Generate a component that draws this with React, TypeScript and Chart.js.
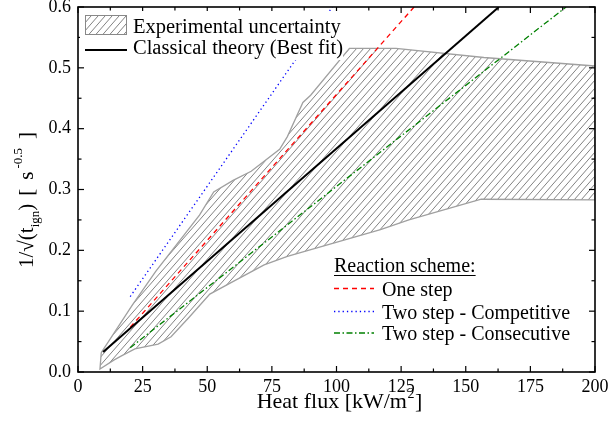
import React, { useEffect, useRef } from 'react';
import { Chart, registerables } from 'chart.js';

Chart.register(...registerables);

// ---- data ----
const xTickValues = [0, 25, 50, 75, 100, 125, 150, 175, 200];
const yTickValues = [0, 0.1, 0.2, 0.3, 0.4, 0.5, 0.6];

// Experimental uncertainty band (upper / lower envelope)
const upperFlux = [9, 21, 30, 47, 52.5, 60, 67, 78, 81, 87, 90, 105, 123, 157, 200];
const upperRate = [0.032, 0.11, 0.165, 0.258, 0.296, 0.315, 0.33, 0.366, 0.387, 0.443, 0.455, 0.532, 0.532, 0.517, 0.503];
const lowerFlux = [8.5, 14, 17, 22, 31, 36, 43, 51, 61, 72, 81, 117, 128, 156, 200];
const lowerRate = [0.005, 0.02, 0.027, 0.038, 0.046, 0.058, 0.09, 0.128, 0.151, 0.176, 0.19, 0.234, 0.25, 0.284, 0.283];

// Model lines
const classicalFlux = [9.7, 162.8];
const classicalRate = [0.033, 0.6];
const oneStepFlux = [20.2, 130];
const oneStepRate = [0.0735, 0.6];
const competitiveFlux = [20.2, 98.4];
const competitiveRate = [0.124, 0.6];
const consecutiveFlux = [20.2, 188.8];
const consecutiveRate = [0.04, 0.6];

const FONT = '"Liberation Serif", "Times New Roman", serif';

function zip(xs: number[], ys: number[]) {
  return xs.map((x, i) => ({ x, y: ys[i] }));
}

function makeHatch(): CanvasPattern | string {
  const c = document.createElement('canvas');
  const w = 7, h = 8;
  c.width = w;
  c.height = h;
  const g = c.getContext('2d');
  if (!g) return '#ccc';
  g.strokeStyle = '#828282';
  g.lineWidth = 1;
  for (let k = -1; k <= 1; k++) {
    g.beginPath();
    g.moveTo(k * w, h);
    g.lineTo(k * w + w, 0);
    g.stroke();
  }
  return g.createPattern(c, 'repeat') || '#ccc';
}

function line(ctx: CanvasRenderingContext2D, x1: number, y1: number, x2: number, y2: number) {
  ctx.beginPath();
  ctx.moveTo(x1, y1);
  ctx.lineTo(x2, y2);
  ctx.stroke();
}

const framePlugin = {
  id: 'frame',
  afterDatasetsDraw(chart: any) {
    const { ctx, chartArea: a, scales } = chart;
    const x = scales.x, y = scales.y;
    ctx.save();
    ctx.strokeStyle = '#000';
    ctx.lineWidth = 1.6;
    ctx.strokeRect(a.left, a.top, a.right - a.left, a.bottom - a.top);
    ctx.lineWidth = 1.2;
    const xMinor = xTickValues.slice(1).map((v, i) => (v + xTickValues[i]) / 2);
    const yMinor = yTickValues.slice(1).map((v, i) => (v + yTickValues[i]) / 2);
    for (const v of xTickValues) {
      const px = x.getPixelForValue(v);
      line(ctx, px, a.bottom, px, a.bottom - 6);
      line(ctx, px, a.top, px, a.top + 6);
    }
    for (const v of xMinor) {
      const px = x.getPixelForValue(v);
      line(ctx, px, a.bottom, px, a.bottom - 3.5);
      line(ctx, px, a.top, px, a.top + 3.5);
    }
    for (const v of yTickValues) {
      const py = y.getPixelForValue(v);
      line(ctx, a.left, py, a.left + 6, py);
      line(ctx, a.right, py, a.right - 6, py);
    }
    for (const v of yMinor) {
      const py = y.getPixelForValue(v);
      line(ctx, a.left, py, a.left + 3.5, py);
      line(ctx, a.right, py, a.right - 3.5, py);
    }
    ctx.restore();
  },
};

function makeTextPlugin(hatch: CanvasPattern | string) {
  return {
    id: 'texts',
    afterDraw(chart: any) {
      const ctx: CanvasRenderingContext2D = chart.ctx;
      ctx.save();
      ctx.fillStyle = '#000';
      ctx.textBaseline = 'alphabetic';

      // ---- X axis title ----
      {
        const big = `22px ${FONT}`;
        const small = `14px ${FONT}`;
        ctx.font = big;
        const p1 = 'Heat flux [kW/m';
        const w1 = ctx.measureText(p1).width;
        const p3 = ']';
        const w3 = ctx.measureText(p3).width;
        ctx.font = small;
        const w2 = ctx.measureText('2').width + 1;
        const total = w1 + w2 + w3;
        const cx = chart.scales.x.getPixelForValue(100) + 3;
        const sx = cx - total / 2;
        const by = 408;
        ctx.font = big;
        ctx.fillText(p1, sx, by);
        ctx.font = small;
        ctx.fillText('2', sx + w1 + 0.5, by - 10);
        ctx.font = big;
        ctx.fillText(p3, sx + w1 + w2, by);
      }

      // ---- Y axis title ----
      {
        const big = `21px ${FONT}`;
        const small = `13px ${FONT}`;
        // text, font, baseline shift, gap after
        const parts: [string, string, number, number][] = [
          ['1/\u221A(t', big, 0, 0],
          ['ign', small, 6, 0],
          [')', big, 0, 8],
          ['[', big, 0, 9],
          ['s', big, 0, 3],
          ['-0.5', small, -11, 9],
          [']', big, 0, 0],
        ];
        let total = 0;
        const widths = parts.map(([t, f, , gap]) => {
          ctx.font = f;
          const w = ctx.measureText(t).width;
          total += w + gap;
          return w;
        });
        ctx.translate(33, 200);
        ctx.rotate(-Math.PI / 2);
        let px = -total / 2;
        parts.forEach(([t, f, dy, gap], i) => {
          ctx.font = f;
          ctx.fillText(t, px, dy);
          px += widths[i] + gap;
        });
        ctx.setTransform(1, 0, 0, 1, 0, 0);
      }

      // ---- Top-left legend ----
      {
        ctx.fillStyle = '#fff';
        ctx.fillRect(80, 11, 263, 49);
        ctx.fillStyle = hatch as any;
        ctx.fillRect(85, 15, 42, 20);
        ctx.strokeStyle = '#888';
        ctx.lineWidth = 1;
        ctx.strokeRect(85.5, 15.5, 41, 19);
        ctx.strokeStyle = '#000';
        ctx.lineWidth = 2;
        line(ctx, 85, 50, 127, 50);
        ctx.fillStyle = '#000';
        ctx.font = `20.5px ${FONT}`;
        ctx.fillText('Experimental uncertainty', 133, 33);
        ctx.fillText('Classical theory (Best fit)', 133, 54);
      }

      // ---- Bottom-right legend ----
      {
        ctx.font = `20px ${FONT}`;
        ctx.fillStyle = '#000';
        const title = 'Reaction scheme:';
        ctx.fillText(title, 334, 272);
        const tw = ctx.measureText(title).width;
        ctx.strokeStyle = '#000';
        ctx.lineWidth = 1;
        line(ctx, 334, 275.5, 334 + tw, 275.5);

        const items: [string, string, number[], number][] = [
          ['One step', '#ff0000', [5, 4], 288.5],
          ['Two step - Competitive', '#0000ff', [1.3, 3], 311.5],
          ['Two step - Consecutive', '#008000', [6, 2.5, 1.5, 2.5], 333],
        ];
        for (const [label, color, dash, yy] of items) {
          ctx.save();
          ctx.strokeStyle = color;
          ctx.lineWidth = 1.3;
          ctx.setLineDash(dash);
          line(ctx, 334, yy, 374, yy);
          ctx.restore();
          ctx.fillText(label, 382, yy + 7.3);
        }
      }
      ctx.restore();
    },
  };
}

export default function App() {
  const ref = useRef<HTMLCanvasElement>(null);
  useEffect(() => {
    document.body.style.margin = '0';
    const canvas = ref.current;
    if (!canvas) return;
    const hatch = makeHatch();
    const band = [...zip(upperFlux, upperRate), ...zip(lowerFlux, lowerRate).reverse()];
    band.push(band[0]);
    const tickFont = { family: FONT, size: 18 };
    const chart = new Chart(canvas, {
      type: 'line',
      data: {
        datasets: [
          {
            data: zip(classicalFlux, classicalRate),
            borderColor: '#000',
            borderWidth: 2,
            fill: false,
            order: 1,
          },
          {
            data: zip(oneStepFlux, oneStepRate),
            borderColor: '#ff0000',
            borderWidth: 1.3,
            borderDash: [5, 4],
            fill: false,
            order: 2,
          },
          {
            data: zip(competitiveFlux, competitiveRate),
            borderColor: '#0000ff',
            borderWidth: 1.3,
            borderDash: [1.3, 3],
            fill: false,
            order: 3,
          },
          {
            data: zip(consecutiveFlux, consecutiveRate),
            borderColor: '#008000',
            borderWidth: 1.3,
            borderDash: [6, 2.5, 1.5, 2.5],
            fill: false,
            order: 4,
          },
          {
            data: band,
            borderColor: '#a0a0a0',
            borderWidth: 1.3,
            backgroundColor: hatch as any,
            fill: 'shape',
            order: 10,
          },
        ],
      },
      options: {
        animation: false,
        responsive: false,
        maintainAspectRatio: false,
        layout: { padding: { top: 7, right: 13, left: 0, bottom: 0 } },
        plugins: { legend: { display: false }, tooltip: { enabled: false } },
        elements: { point: { radius: 0, hoverRadius: 0 }, line: { tension: 0 } },
        scales: {
          x: {
            type: 'linear',
            min: 0,
            max: 200,
            afterBuildTicks: (s: any) => {
              s.ticks = xTickValues.map((v) => ({ value: v }));
            },
            ticks: {
              font: tickFont,
              color: '#000',
              padding: 4,
              maxRotation: 0,
              autoSkip: false,
              callback: (v: any) => String(v),
            },
            grid: { display: false, drawTicks: false },
            border: { display: false },
            afterFit: (s: any) => {
              s.height = 60;
              s.paddingLeft = 0;
              s.paddingRight = 0;
            },
          },
          y: {
            type: 'linear',
            min: 0,
            max: 0.6,
            afterBuildTicks: (s: any) => {
              s.ticks = yTickValues.map((v) => ({ value: v }));
            },
            ticks: {
              font: tickFont,
              color: '#000',
              padding: 7,
              autoSkip: false,
              callback: (v: any) => Number(v).toFixed(1),
            },
            grid: { display: false, drawTicks: false },
            border: { display: false },
            afterFit: (s: any) => {
              s.width = 78;
              s.paddingTop = 0;
              s.paddingBottom = 0;
            },
          },
        },
      },
      plugins: [framePlugin, makeTextPlugin(hatch)],
    } as any);
    return () => chart.destroy();
  }, []);
  return <canvas ref={ref} width={608} height={432} style={{ display: 'block' }} />;
}
